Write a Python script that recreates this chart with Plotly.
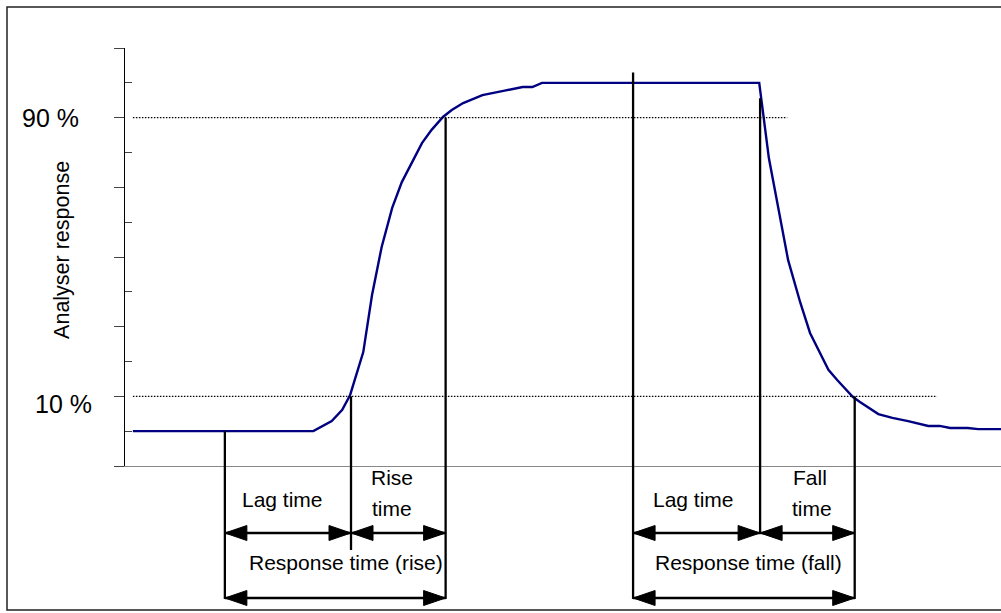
import plotly.graph_objects as go

# ---------------- data ----------------
# Analyser response curve: time (arbitrary units) and response (% of full scale)
time = [0.0, 20.6, 22.7, 23.9, 24.8, 26.3, 27.3, 28.4, 29.6, 30.7, 33.0, 34.1, 35.4,
        36.4, 37.7, 39.9, 42.3, 44.5, 45.6, 46.7, 71.5, 72.6, 74.8, 76.2, 77.3, 78.4,
        79.4, 80.4, 82.2, 83.0, 85.1, 86.7, 88.5, 90.8, 92.1, 93.3, 95.3, 96.5, 99.1]
response = [0, 0, 2.9, 6.1, 10.4, 22.7, 39.1, 52.9, 64.1, 71.5, 82.7, 86.5, 90.2,
            92.2, 94.2, 96.5, 97.7, 98.8, 98.8, 100, 100, 78.4, 49.1, 36.8, 28.2, 22.4,
            17.6, 14.7, 9.8, 8.4, 4.9, 3.8, 2.9, 1.5, 1.5, 0.9, 0.9, 0.6, 0.6]

# Threshold levels
level_labels = ["90 %", "10 %"]
level_values = [90, 10]
level_end_times = [74.7, 91.8]

# Event marker lines (times) and the response level where each starts
event_times = [10.5, 24.9, 35.7, 57.1, 71.6, 82.4]
event_tops = [0, 10, 90, 103, 95.6, 10]
event_bottoms = [-0.318, -0.201, -0.318, -0.318, -0.160, -0.318]  # paper units below axis

# Interval arrows: (start event, end event, row)
arrow_spans = [(0, 1, "upper"), (1, 2, "upper"), (0, 2, "lower"),
               (3, 4, "upper"), (4, 5, "upper"), (3, 5, "lower")]
arrow_rows = {"upper": -0.1603, "lower": -0.3158}

# Interval labels
interval_labels = ["Lag time", "Rise", "time", "Response time (rise)",
                   "Lag time", "Fall", "time", "Response time (fall)"]
interval_label_x = [17.1, 29.6, 29.6, 24.3, 64.0, 77.3, 77.5, 70.3]
interval_label_y = [-0.0813, -0.0287, -0.1005, -0.232, -0.0813, -0.0287, -0.1005, -0.232]

# Y-axis ticks (% of full scale)
major_ticks = [-10, 10, 30, 50, 70, 90, 110]
minor_ticks = [0, 20, 40, 60, 80, 100]

FONT = "Liberation Sans, Arial, Helvetica, sans-serif"
NAVY = "#000080"
LW = 2.3

fig = go.Figure()
fig.add_trace(go.Scatter(x=time, y=response, mode="lines",
                         line=dict(color=NAVY, width=2.4), hoverinfo="skip"))

shapes = []
# dotted threshold lines
for lv, te in zip(level_values, level_end_times):
    shapes.append(dict(type="line", xref="x", yref="y", x0=time[0], x1=te, y0=lv, y1=lv,
                       line=dict(color="black", width=1.3, dash="1.5px,1.5px")))

# vertical marker lines: inside plot + below the axis
for t, top, bot in zip(event_times, event_tops, event_bottoms):
    shapes.append(dict(type="line", xref="x", yref="y", x0=t, x1=t, y0=top, y1=-10,
                       line=dict(color="black", width=LW)))
    shapes.append(dict(type="line", xref="x", yref="paper", x0=t, x1=t, y0=0, y1=bot,
                       line=dict(color="black", width=LW)))

# double-headed arrows
HL, HW = 22, 7.5
for a, b, row in arrow_spans:
    ta, tb = event_times[a], event_times[b]
    yy = arrow_rows[row]
    shapes.append(dict(type="line", xref="x", yref="paper", x0=ta, x1=tb, y0=yy, y1=yy,
                       line=dict(color="black", width=LW)))
    shapes.append(dict(type="path", xref="x", yref="paper", xsizemode="pixel",
                       ysizemode="pixel", xanchor=ta, yanchor=yy,
                       path=f"M0,0 L{HL},{HW} L{HL},{-HW} Z",
                       fillcolor="black", line=dict(color="black", width=1)))
    shapes.append(dict(type="path", xref="x", yref="paper", xsizemode="pixel",
                       ysizemode="pixel", xanchor=tb, yanchor=yy,
                       path=f"M0,0 L{-HL},{HW} L{-HL},{-HW} Z",
                       fillcolor="black", line=dict(color="black", width=1)))

# outer frame
shapes.append(dict(type="rect", xref="paper", yref="paper", x0=-0.1347, x1=1.02,
                   y0=-0.3445, y1=1.098, line=dict(color="#222", width=1.5)))

annotations = []
level_x = [-0.0845, -0.0702]
level_shift = [0, -8]
for lab, lv, lx, ys in zip(level_labels, level_values, level_x, level_shift):
    annotations.append(dict(text=lab, xref="paper", yref="y", x=lx, y=lv, yshift=ys,
                            showarrow=False, xanchor="center", yanchor="middle",
                            font=dict(family=FONT, size=25, color="black")))
annotations.append(dict(text="Analyser response", xref="paper", yref="paper",
                        x=-0.0719, y=0.517, textangle=-90, showarrow=False,
                        xanchor="center", yanchor="middle",
                        font=dict(family=FONT, size=21.5, color="black")))
for lab, lx, ly in zip(interval_labels, interval_label_x, interval_label_y):
    annotations.append(dict(text=lab, xref="x", yref="paper", x=lx, y=ly,
                            showarrow=False, xanchor="center", yanchor="middle",
                            font=dict(family=FONT, size=21, color="black")))

fig.update_layout(
    width=1001, height=613,
    margin=dict(l=125, r=0, t=48, b=147, pad=0),
    plot_bgcolor="white", paper_bgcolor="white",
    showlegend=False,
    shapes=shapes, annotations=annotations,
    xaxis=dict(range=[-0.9, 99.1], showgrid=False, zeroline=False,
               showticklabels=False, ticks="", showline=True,
               linecolor="#888", linewidth=1, fixedrange=True),
    yaxis=dict(range=[-10, 110], tickmode="array", tickvals=major_ticks,
               ticks="outside", ticklen=10, tickwidth=1, tickcolor="#444",
               showticklabels=False, showline=True, linecolor="black", linewidth=1,
               showgrid=False, zeroline=False, fixedrange=True,
               minor=dict(tickmode="array", tickvals=minor_ticks, ticks="inside",
                          ticklen=7, tickwidth=1, tickcolor="#444", showgrid=False)),
)

fig.write_html("out.html", config={"displayModeBar": False},
               post_script="document.body.style.margin='0';document.body.style.overflow='hidden';")
